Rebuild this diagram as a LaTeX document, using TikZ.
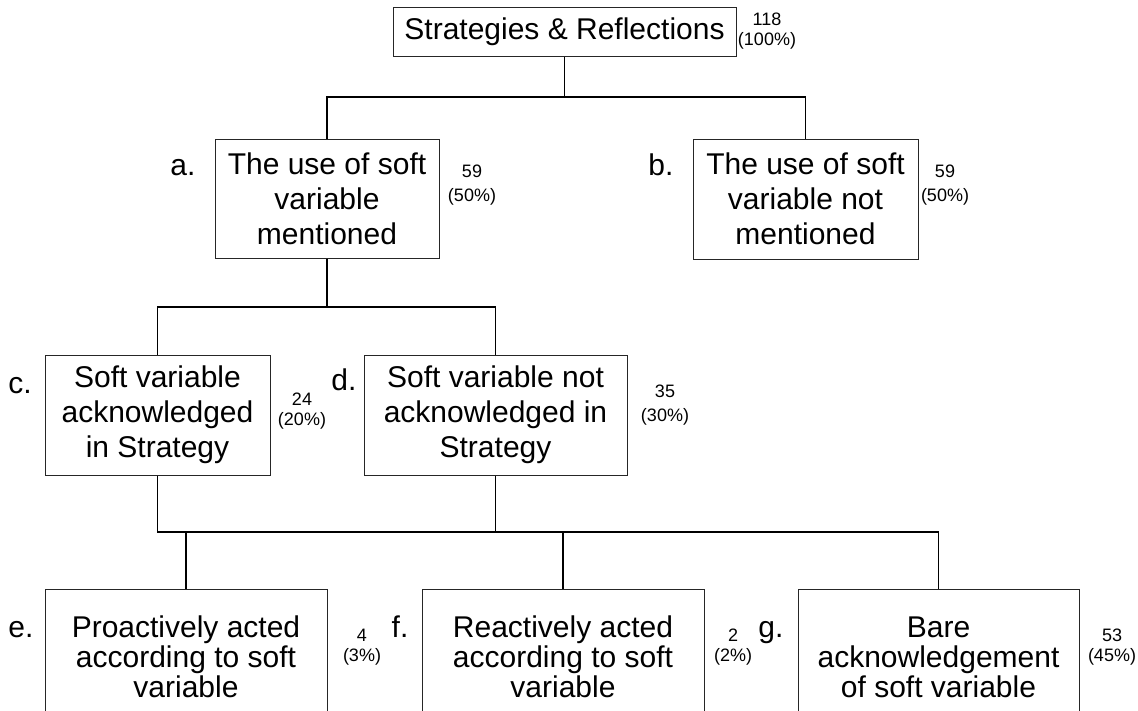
\documentclass[tikz,border=0pt]{standalone}
\usepackage{fontspec}
\setmainfont{Liberation Sans}
\begin{document}
\begin{tikzpicture}[x=1pt,y=-1pt,
  box/.style={draw=black!85, line width=1pt, rectangle, inner sep=0pt, align=center},
  boxtxt/.style={font=\fontsize{30}{35}\selectfont},
  lowtxt/.style={font=\fontsize{30}{30}\selectfont},
  tag/.style={font=\fontsize{30}{35}\selectfont, anchor=base},
  count/.style={font=\fontsize{18}{20}\selectfont, align=center, inner sep=0pt},
  widecount/.style={count, font=\fontsize{18}{24}\selectfont},
  conn/.style={line width=1.7pt, black}
]
\useasboundingbox (0,0) rectangle (1138,710);
\clip (0,0) rectangle (1138,710);

% category boxes
\node[box, font=\fontsize{30}{35}\selectfont, minimum width=343, minimum height=49] (root) at (564.5,31.5) {Strategies \& Reflections};
\node[box, boxtxt, minimum width=224, minimum height=119] (a) at (327,198.5) {The use of soft\\variable\\mentioned};
\node[box, boxtxt, minimum width=225, minimum height=120] (b) at (805.5,199) {The use of soft\\variable not\\mentioned};
\node[box, boxtxt, minimum width=225, minimum height=120] (c) at (157.5,415) {Soft variable\\acknowledged\\in Strategy};
\node[box, boxtxt, minimum width=263, minimum height=120] (d) at (495.5,415) {Soft variable not\\acknowledged in\\Strategy};
\node[box, lowtxt, minimum width=282, minimum height=136] (e) at (186,657) {Proactively acted\\according to soft\\variable};
\node[box, lowtxt, minimum width=282, minimum height=136] (f) at (563,657) {Reactively acted\\according to soft\\variable};
\node[box, lowtxt, minimum width=281, minimum height=136] (g) at (938.5,657) {Bare\\acknowledgement\\of soft variable};

% item letters
\node[tag] (ta) at (183,175) {a.};
\node[tag] (tb) at (661,175) {b.};
\node[tag] (tc) at (20,393) {c.};
\node[tag] (td) at (344,390) {d.};
\node[tag] (te) at (21,637) {e.};
\node[tag] (tf) at (400,637) {f.};
\node[tag] (tg) at (771,637) {g.};

% counts and shares
\node[count] (nroot) at (767,31) {118\\(100\%)};
\node[widecount] (na) at (472,185) {59\\(50\%)};
\node[widecount] (nb) at (945,185) {59\\(50\%)};
\node[count] (nc) at (302,411) {24\\(20\%)};
\node[widecount] (nd) at (665,405) {35\\(30\%)};
\node[count] (ne) at (362,647) {4\\(3\%)};
\node[count] (nf) at (733,647) {2\\(2\%)};
\node[count] (ng) at (1112,647) {53\\(45\%)};

% connectors
\coordinate (j1) at (564.5,97);
\coordinate (j2) at (327,307);
\coordinate (j3) at (495.5,532);
\draw[conn] (root.south) -- (j1);
\draw[conn] (a.north) |- (j1) -| (b.north);
\draw[conn] (a.south) -- (j2);
\draw[conn] (c.north) |- (j2) -| (d.north);
\draw[conn] (c.south) |- (j3);
\draw[conn] (d.south) -- (j3);
\draw[conn] (e.north) |- (j3) -| (g.north);
\draw[conn] (f.north) -- (f.north |- j3);
\end{tikzpicture}
\end{document}
